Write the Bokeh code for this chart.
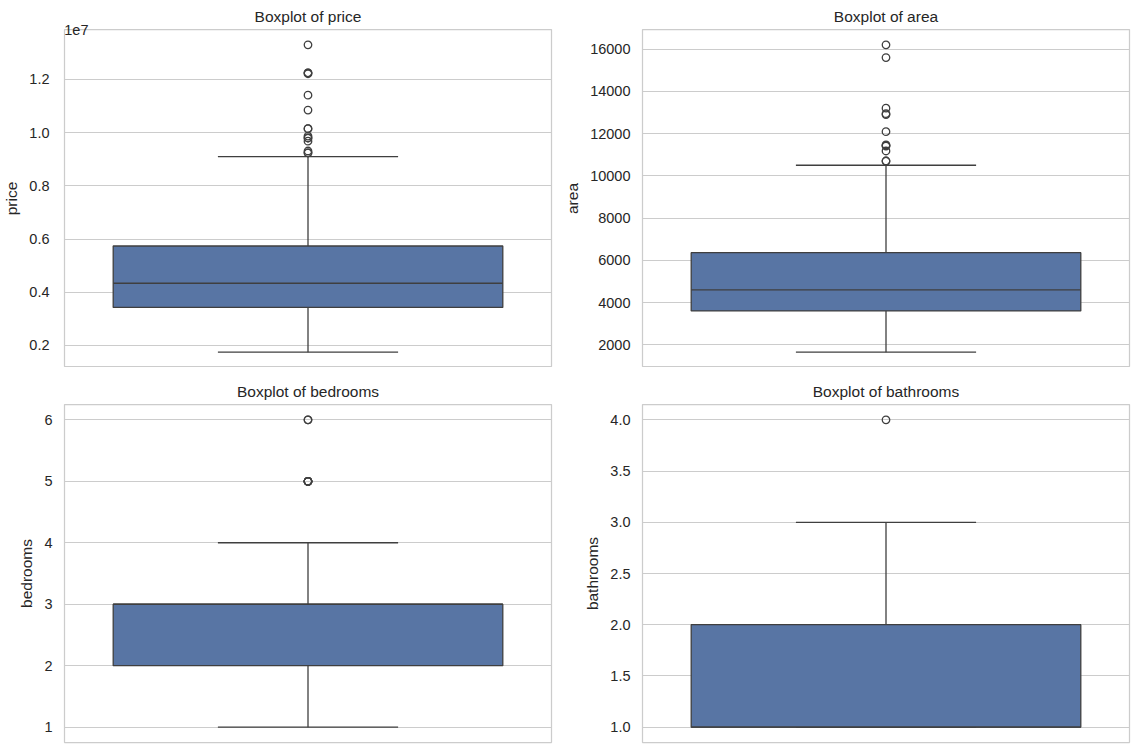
from bokeh.plotting import figure
from bokeh.layouts import gridplot
from bokeh.models import Range1d, FixedTicker, LinearAxis
from bokeh.embed import file_html
from bokeh.resources import INLINE

# ---- data (five-number summaries + outliers) ----
price_stats = [1750000, 3430000, 4340000, 5740000, 9100000]   # lo whisker, Q1, median, Q3, hi whisker
price_outliers = [13300000, 12250000, 12250000, 12215000, 11410000, 10850000,
                  10150000, 10150000, 9870000, 9800000, 9800000, 9681000,
                  9310000, 9240000, 9240000]
price_ticks = [2000000, 4000000, 6000000, 8000000, 10000000, 12000000]
price_tick_labels = ["0.2", "0.4", "0.6", "0.8", "1.0", "1.2"]

area_stats = [1650, 3600, 4600, 6360, 10500]
area_outliers = [16200, 15600, 13200, 12944, 12900, 12090, 11460, 11440,
                 11410, 11175, 10700, 10700]
area_ticks = [2000, 4000, 6000, 8000, 10000, 12000, 14000, 16000]
area_tick_labels = ["2000", "4000", "6000", "8000", "10000", "12000", "14000", "16000"]

bedrooms_stats = [1, 2, 3, 3, 4]
bedrooms_outliers = [5, 5, 5, 5, 5, 5, 6, 6]
bedrooms_ticks = [1, 2, 3, 4, 5, 6]
bedrooms_tick_labels = ["1", "2", "3", "4", "5", "6"]

bathrooms_stats = [1, 1, 1, 2, 3]
bathrooms_outliers = [4]
bathrooms_ticks = [1.0, 1.5, 2.0, 2.5, 3.0, 3.5, 4.0]
bathrooms_tick_labels = ["1.0", "1.5", "2.0", "2.5", "3.0", "3.5", "4.0"]

# ---- style ----
FONT = "Liberation Sans"
TEXT = "#262626"
BOX_FILL = "#5875a4"
LINE = "#3f3f3f"
GRID = "#cccccc"
LW = 1.3
FRAME_W = 487
FRAME_H = 338
BOX_HALF = 0.4
CAP_HALF = 0.185


def make_box(name, stats, outliers, ticks, tick_labels, left, right, top, bottom, offset_text=None):
    lo, q1, med, q3, hi = stats
    vmin = min([lo] + outliers)
    vmax = max([hi] + outliers)
    pad = (vmax - vmin) * 0.05
    p = figure(frame_width=FRAME_W, frame_height=FRAME_H,
               x_range=Range1d(-0.5, 0.5), y_range=Range1d(vmin - pad, vmax + pad),
               output_backend="svg", toolbar_location=None, x_axis_location=None,
               title="Boxplot of " + name,
               min_border_left=left, min_border_right=right,
               min_border_top=top, min_border_bottom=bottom)
    p.background_fill_color = "white"
    p.border_fill_color = "white"
    p.outline_line_color = GRID
    p.outline_line_width = 1.25
    p.outline_line_alpha = 1.0

    p.title.align = "center"
    p.title.text_font = FONT
    p.title.text_font_size = "15.5px"
    p.title.text_font_style = "normal"
    p.title.text_color = TEXT
    p.title.standoff = 9

    ax = p.yaxis[0]
    ax.ticker = FixedTicker(ticks=ticks)
    ax.major_label_overrides = {t: l for t, l in zip(ticks, tick_labels)}
    ax.axis_line_color = None
    ax.major_tick_line_color = None
    ax.minor_tick_line_color = None
    ax.major_tick_out = 0
    ax.major_label_standoff = 12
    ax.major_label_text_font = FONT
    ax.major_label_text_font_size = "14.5px"
    ax.major_label_text_color = TEXT
    ax.axis_label = name
    ax.axis_label_text_font = FONT
    ax.axis_label_text_font_size = "15.5px"
    ax.axis_label_text_font_style = "normal"
    ax.axis_label_text_color = TEXT
    ax.axis_label_standoff = 6

    p.xgrid.grid_line_color = None
    p.ygrid.grid_line_color = GRID
    p.ygrid.grid_line_width = 1.1

    # whiskers
    p.segment(x0=[0, 0], y0=[q1, q3], x1=[0, 0], y1=[lo, hi], line_color=LINE, line_width=LW)
    # caps
    p.segment(x0=[-CAP_HALF, -CAP_HALF], y0=[lo, hi], x1=[CAP_HALF, CAP_HALF], y1=[lo, hi],
              line_color=LINE, line_width=LW)
    # box
    p.quad(left=[-BOX_HALF], right=[BOX_HALF], bottom=[q1], top=[q3],
           fill_color=BOX_FILL, line_color=LINE, line_width=LW)
    # median
    p.segment(x0=[-BOX_HALF], y0=[med], x1=[BOX_HALF], y1=[med], line_color=LINE, line_width=LW)
    # fliers
    p.scatter(x=[0] * len(outliers), y=outliers, marker="circle", size=7.5,
              fill_color=None, line_color=LINE, line_width=LW)

    if offset_text:
        # scientific offset text ("1e7") at the top-left corner of the frame:
        # a tick-less inner axis whose single label sits at the top of the range
        tick_pos = (vmax + pad) - (vmax - vmin) * 1e-4
        off_axis = LinearAxis(ticker=FixedTicker(ticks=[tick_pos]),
                              major_label_overrides={tick_pos: offset_text},
                              major_label_text_align="right",
                              major_label_text_baseline="bottom",
                              major_label_standoff=-24,
                              major_tick_out=0, major_tick_in=0,
                              axis_line_color=None, major_tick_line_color=None,
                              minor_tick_line_color=None,
                              major_label_text_font=FONT,
                              major_label_text_font_size="14.5px",
                              major_label_text_color=TEXT)
        p.left = [off_axis, ax]
    return p


p1 = make_box("price", price_stats, price_outliers, price_ticks, price_tick_labels,
              left=63, right=10, top=29, bottom=0, offset_text="1e7")
p2 = make_box("area", area_stats, area_outliers, area_ticks, area_tick_labels,
              left=80, right=5, top=29, bottom=0)
p3 = make_box("bedrooms", bedrooms_stats, bedrooms_outliers, bedrooms_ticks, bedrooms_tick_labels,
              left=63, right=10, top=37, bottom=2)
p4 = make_box("bathrooms", bathrooms_stats, bathrooms_outliers, bathrooms_ticks, bathrooms_tick_labels,
              left=80, right=5, top=37, bottom=2)

grid = gridplot([[p1, p2], [p3, p4]], toolbar_location=None)

open("out.html", "w").write(file_html(grid, INLINE))
